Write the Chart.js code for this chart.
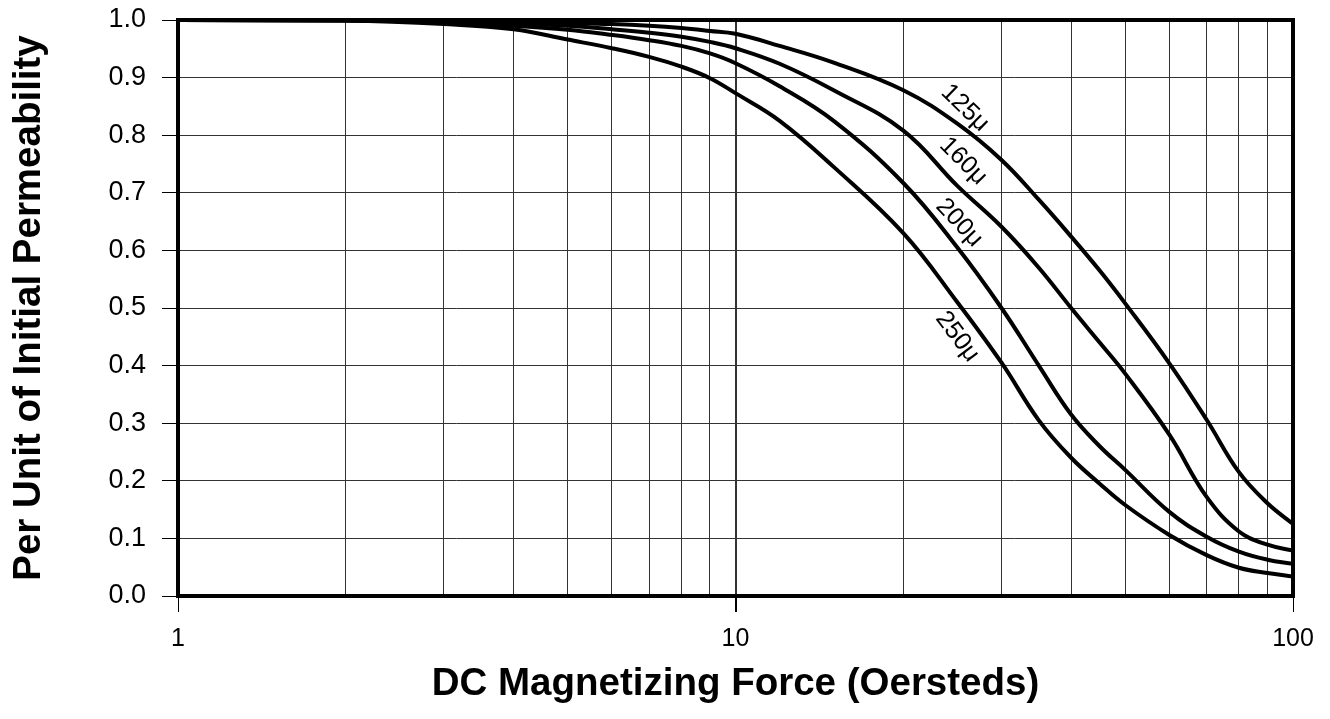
<!DOCTYPE html>
<html>
<head>
<meta charset="utf-8">
<script src="https://cdn.jsdelivr.net/npm/chart.js@4.4.0/dist/chart.umd.min.js"></script>
<style>
html, body { margin: 0; padding: 0; background: #fff; }
</style>
</head>
<body>
<canvas id="permChart" width="1330" height="719"></canvas>
<script>
// DC magnetizing force (Oe) and per-unit permeability
const fieldOe = [1, 2, 3, 4, 5, 6, 7, 8, 9, 10, 12, 15, 20, 25, 30, 35, 40, 45, 50, 60, 70, 80, 90, 100];
const perm125 = [1.0, 1.0, 0.998, 0.997, 0.995, 0.993, 0.990, 0.986, 0.981, 0.976, 0.955, 0.926, 0.878, 0.82, 0.757, 0.688, 0.624, 0.565, 0.508, 0.404, 0.306, 0.215, 0.161, 0.125];
const perm160 = [1.0, 0.999, 0.997, 0.994, 0.990, 0.984, 0.978, 0.971, 0.962, 0.951, 0.924, 0.878, 0.808, 0.712, 0.641, 0.57, 0.5, 0.44, 0.386, 0.28, 0.172, 0.112, 0.089, 0.079];
const perm200 = [1.0, 0.999, 0.996, 0.990, 0.983, 0.974, 0.965, 0.955, 0.942, 0.925, 0.885, 0.825, 0.717, 0.605, 0.5, 0.4, 0.315, 0.26, 0.219, 0.146, 0.103, 0.077, 0.063, 0.056];
const perm250 = [1.0, 0.999, 0.993, 0.984, 0.966, 0.951, 0.936, 0.919, 0.899, 0.873, 0.825, 0.745, 0.63, 0.51, 0.405, 0.305, 0.24, 0.195, 0.158, 0.106, 0.071, 0.049, 0.040, 0.034];

const xGridTicks = [1, 2, 3, 4, 5, 6, 7, 8, 9, 10, 20, 30, 40, 50, 60, 70, 80, 90, 100];
const xLabelTicks = [1, 10, 100];
const yTicks = [0, 0.1, 0.2, 0.3, 0.4, 0.5, 0.6, 0.7, 0.8, 0.9, 1.0];

const curveNames = ['125μ', '160μ', '200μ', '250μ'];
const curveLabelX = [25.8, 25.6, 25.2, 25.0];
const curveLabelY = [0.847, 0.755, 0.648, 0.45];
const curveLabelAngle = [44, 45, 47, 53];

const FONT = "'Liberation Sans', Arial, sans-serif";
Chart.defaults.font.family = FONT;
Chart.defaults.color = '#000';

function series(vals) {
    return fieldOe.map((x, i) => ({ x: x, y: vals[i] }));
}

const curveLabels = {
    id: 'curveLabels',
    afterDatasetsDraw(chart) {
        const ctx = chart.ctx, xs = chart.scales.x, ys = chart.scales.y;
        ctx.save();
        ctx.font = '25px ' + FONT;
        ctx.fillStyle = '#000';
        ctx.textAlign = 'center';
        ctx.textBaseline = 'middle';
        curveNames.forEach((name, i) => {
            ctx.save();
            ctx.translate(xs.getPixelForValue(curveLabelX[i]), ys.getPixelForValue(curveLabelY[i]));
            ctx.rotate(curveLabelAngle[i] * Math.PI / 180);
            ctx.fillText(name, 0, 0);
            ctx.restore();
        });
        ctx.restore();
    }
};

const frame = {
    id: 'frame',
    afterDatasetsDraw(chart) {
        const a = chart.chartArea, ctx = chart.ctx;
        ctx.save();
        ctx.strokeStyle = '#000';
        ctx.lineWidth = 4;
        ctx.strokeRect(a.left, a.top, a.right - a.left, a.bottom - a.top);
        ctx.restore();
    }
};

const lineStyle = { borderColor: '#000', borderWidth: 4, pointRadius: 0, tension: 0.4, fill: false };

new Chart(document.getElementById('permChart'), {
    type: 'line',
    data: {
        datasets: [
            Object.assign({ label: curveNames[0], data: series(perm125) }, lineStyle),
            Object.assign({ label: curveNames[1], data: series(perm160) }, lineStyle),
            Object.assign({ label: curveNames[2], data: series(perm200) }, lineStyle),
            Object.assign({ label: curveNames[3], data: series(perm250) }, lineStyle)
        ]
    },
    options: {
        responsive: false,
        animation: false,
        devicePixelRatio: 1,
        layout: { padding: { top: 20, right: 37, left: 0, bottom: 0 } },
        plugins: { legend: { display: false }, tooltip: { enabled: false } },
        scales: {
            x: {
                type: 'logarithmic',
                min: 1,
                max: 100,
                afterBuildTicks: scale => { scale.ticks = xGridTicks.map(v => ({ value: v })); },
                afterFit: scale => {
                    scale.height = 123;
                    scale.paddingLeft = 0;
                    scale.paddingRight = 0;
                },
                border: { display: false },
                grid: {
                    color: '#333',
                    lineWidth: c => (c.tick && c.tick.value === 10 ? 2 : 1),
                    tickColor: c => (c.tick && xLabelTicks.includes(c.tick.value) ? '#000' : 'rgba(0,0,0,0)'),
                    tickLength: 16
                },
                ticks: {
                    autoSkip: false,
                    maxRotation: 0,
                    padding: 12,
                    font: { size: 25 },
                    callback: v => (xLabelTicks.includes(v) ? String(v) : '')
                },
                title: {
                    display: true,
                    text: 'DC Magnetizing Force (Oersteds)',
                    font: { size: 38.5, weight: 'bold' },
                    padding: { top: 0, bottom: 12 }
                }
            },
            y: {
                min: 0,
                max: 1,
                afterBuildTicks: scale => { scale.ticks = yTicks.map(v => ({ value: v })); },
                afterFit: scale => {
                    scale.width = 178;
                    scale.paddingTop = 0;
                    scale.paddingBottom = 0;
                },
                border: { display: false },
                grid: { color: '#333', lineWidth: 1, tickColor: '#000', tickLength: 16 },
                ticks: {
                    padding: 16,
                    font: { size: 27 },
                    callback: v => v.toFixed(1)
                },
                title: {
                    display: true,
                    text: 'Per Unit of Initial Permeability',
                    font: { size: 38.5, weight: 'bold' },
                    padding: { top: 6, bottom: 0 }
                }
            }
        }
    },
    plugins: [curveLabels, frame]
});
</script>
</body>
</html>
